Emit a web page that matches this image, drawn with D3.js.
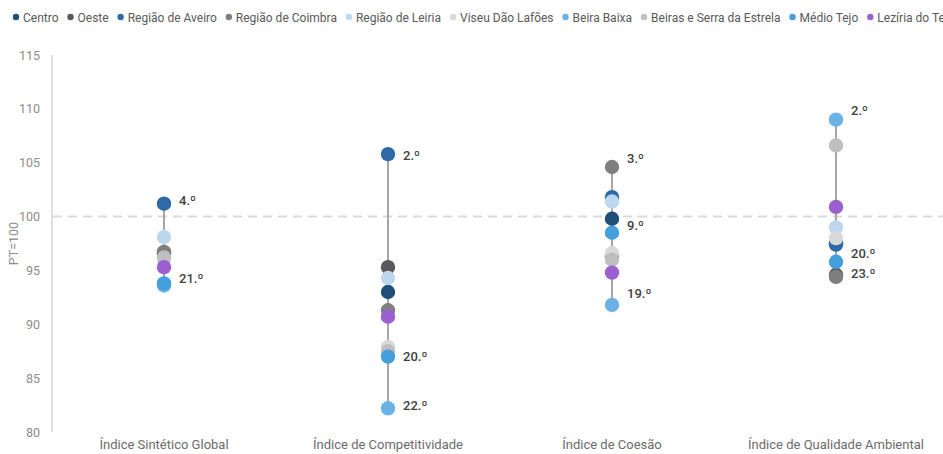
<!DOCTYPE html>
<html>
<head>
<meta charset="utf-8">
<script src="https://cdn.jsdelivr.net/npm/d3@7"></script>
<style>
  body { margin: 0; background: #fff; }
  svg { display: block; font-family: Roboto, "Open Sans", sans-serif; }
</style>
</head>
<body>
<svg id="chart"></svg>
<script>
var width = 943,
    height = 454;

var categories = ["Índice Sintético Global", "Índice de Competitividade", "Índice de Coesão", "Índice de Qualidade Ambiental"];
var regions = ["Centro", "Oeste", "Região de Aveiro", "Região de Coimbra", "Região de Leiria",
               "Viseu Dão Lafões", "Beira Baixa", "Beiras e Serra da Estrela", "Médio Tejo", "Lezíria do Tejo"];
var colors = ["#1f4e79", "#595959", "#2e6aa6", "#7f7f7f", "#bdd7ee",
              "#d9d9d9", "#6cb2e6", "#bfbfbf", "#44a0dc", "#9c5fd0"];

// one row per region, values for each of the four indices
var values = [
  [96.6, 93.0, 99.8, 97.5],   // Centro
  [96.7, 95.3, 96.3, 94.6],   // Oeste
  [101.2, 105.8, 101.8, 97.4],// Região de Aveiro
  [96.7, 91.3, 104.6, 94.4],  // Região de Coimbra
  [98.1, 94.3, 101.4, 99.0],  // Região de Leiria
  [96.0, 87.9, 96.6, 98.0],   // Viseu Dão Lafões
  [93.6, 82.2, 91.8, 109.0],  // Beira Baixa
  [96.2, 87.5, 96.0, 106.6],  // Beiras e Serra da Estrela
  [93.8, 87.0, 98.5, 95.8],   // Médio Tejo
  [95.3, 90.7, 94.8, 100.9]   // Lezíria do Tejo
];

var rankLabels = [
  {cat: 0, text: "4.º",  at: 101.5},
  {cat: 0, text: "21.º", at: 94.3},
  {cat: 1, text: "2.º",  at: 105.7},
  {cat: 1, text: "20.º", at: 87.1},
  {cat: 1, text: "22.º", at: 82.5},
  {cat: 2, text: "3.º",  at: 105.4},
  {cat: 2, text: "9.º",  at: 99.2},
  {cat: 2, text: "19.º", at: 92.9},
  {cat: 3, text: "2.º",  at: 109.9},
  {cat: 3, text: "20.º", at: 96.6},
  {cat: 3, text: "23.º", at: 94.8}
];

var yTicks = [80, 85, 90, 95, 100, 105, 110, 115];

var svg = d3.select("#chart").attr("width", width).attr("height", height);

var x = d3.scaleBand().domain(d3.range(categories.length)).range([52, 948]);
var y = d3.scaleLinear().domain([80, 115]).range([432, 55]);

// legend
var lx = 13;
regions.forEach(function(r, i) {
    var g = svg.append("g").attr("transform", "translate(" + lx + ",17)");
    g.append("circle").attr("r", 3.2).attr("cx", 3).attr("cy", 0).attr("fill", colors[i]);
    var t = g.append("text").attr("x", 10).attr("y", 4.5)
        .attr("font-size", 12).attr("fill", "#595959").text(r);
    lx += 10 + t.node().getComputedTextLength() + 9;
});

// y axis
svg.append("line").attr("x1", 52).attr("x2", 52).attr("y1", y(115)).attr("y2", y(80))
    .attr("stroke", "#bfbfbf").attr("stroke-width", 1);

svg.selectAll(".ytick").data(yTicks).enter().append("text")
    .attr("x", 40).attr("y", d => y(d) + 4.5)
    .attr("text-anchor", "end").attr("font-size", 12.5).attr("fill", "#8c8c8c")
    .text(d => d);

svg.append("text")
    .attr("transform", "translate(18," + ((y(80) + y(115)) / 2) + ") rotate(-90)")
    .attr("text-anchor", "middle").attr("font-size", 12.5).attr("fill", "#8c8c8c")
    .text("PT=100");

// reference line at 100
svg.append("line").attr("x1", 53).attr("x2", width).attr("y1", y(100)).attr("y2", y(100))
    .attr("stroke", "#d9d9d9").attr("stroke-width", 2).attr("stroke-dasharray", "9,6");

// category labels
svg.selectAll(".cat").data(categories).enter().append("text")
    .attr("x", (d, i) => x(i) + x.bandwidth() / 2).attr("y", 449)
    .attr("text-anchor", "middle").attr("font-size", 13).attr("fill", "#6b6b6b")
    .text(d => d);

// range lines
categories.forEach(function(c, j) {
    var col = values.map(v => v[j]);
    var cx = x(j) + x.bandwidth() / 2;
    svg.append("line").attr("x1", cx).attr("x2", cx)
        .attr("y1", y(d3.max(col))).attr("y2", y(d3.min(col)))
        .attr("stroke", "#a6a6a6").attr("stroke-width", 2);
});

// points
var pts = [];
values.forEach(function(v, i) {
    v.forEach(function(val, j) { pts.push({r: i, c: j, v: val}); });
});
svg.selectAll(".pt").data(pts).enter().append("circle")
    .attr("cx", d => x(d.c) + x.bandwidth() / 2)
    .attr("cy", d => y(d.v))
    .attr("r", 7.2)
    .attr("fill", d => colors[d.r]);

// rank labels
svg.selectAll(".rank").data(rankLabels).enter().append("text")
    .attr("x", d => x(d.cat) + x.bandwidth() / 2 + 15)
    .attr("y", d => y(d.at) + 5)
    .attr("font-size", 13).attr("font-weight", 500).attr("fill", "#404040")
    .text(d => d.text);
</script>
</body>
</html>
